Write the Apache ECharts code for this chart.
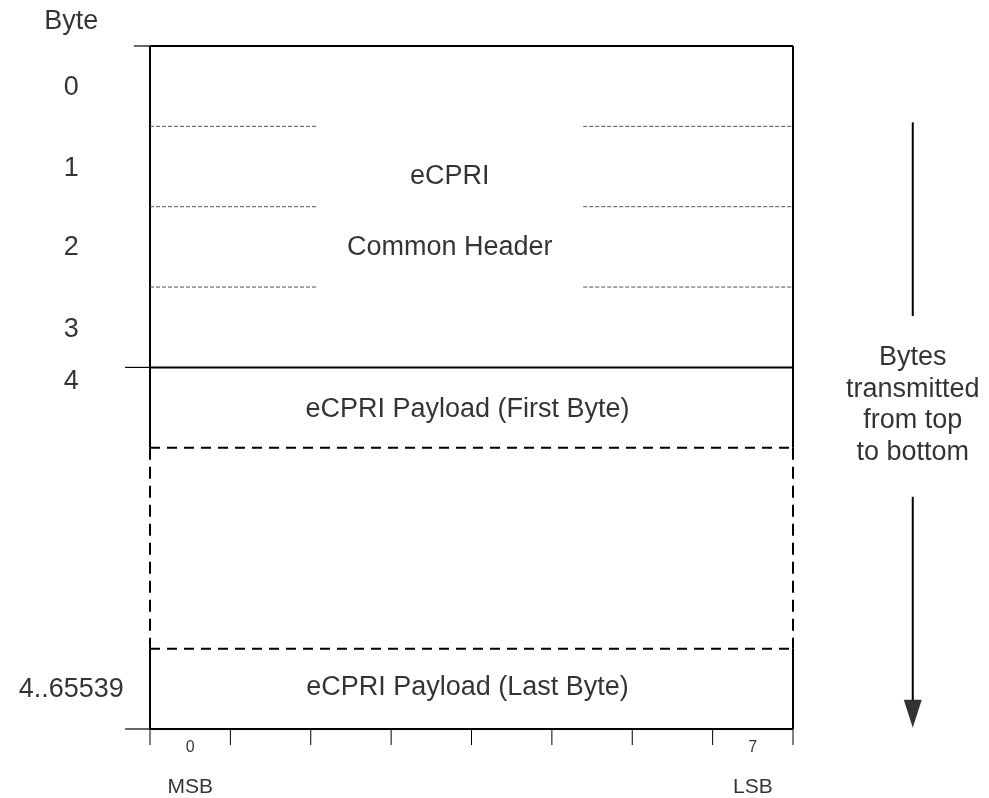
<!DOCTYPE html>
<html>
<head>
<meta charset="utf-8">
<title>eCPRI frame format</title>
<script src="https://cdn.jsdelivr.net/npm/echarts@6.0.0/dist/echarts.min.js"></script>
<style>
  html, body { margin: 0; padding: 0; background: #fff; }
  #chart { width: 989px; height: 798px; }
</style>
</head>
<body>
<div id="chart"></div>
<script>
// byte numbers down the left side (y in byte rows, 0 = top of frame)
const byteLabels = ['Byte', '0', '1', '2', '3', '4', '4..65539'];
const byteLabelRows = [-0.3, 0.52, 1.52, 2.51, 3.53, 4.18, 8.01];

// bit numbers and significance under the frame
const bitLabels = ['0', '7'];
const bitLabelCols = [0.5, 7.5];
const bitNames = ['MSB', 'LSB'];

// frame rows
const headerSubRows = [1, 2, 3];      // thin dashed lines inside the common header
const headerGap = [2.09, 5.39];       // where the thin dashed lines stop for the text
const solidRows = [0, 4];             // top of frame, end of common header
const payloadDashRows = [5, 7.5];     // first byte end, last byte start
const frameEnd = 8.5;
const bitCount = 8;

// field names
const fieldNames = ['eCPRI', 'Common Header', 'eCPRI Payload (First Byte)', 'eCPRI Payload (Last Byte)'];
const fieldRows = [1.62, 2.51, 4.53, 7.98];
const fieldCols = [3.73, 3.73, 3.95, 3.95];

// transmit direction arrow
const arrowCol = 9.49;
const arrowShaftTop = [0.95, 3.36];
const arrowShaftBottom = [5.61, 8.14];
const arrowHeadRow = 8.31;
const arrowText = 'Bytes\ntransmitted\nfrom top\nto bottom';
const arrowTextRow = 4.47;

const FONT = 'Liberation Sans, Arial, sans-serif';

function seg(points, width, type, color) {
    return {
        type: 'line',
        data: points,
        symbol: 'none',
        silent: true,
        animation: false,
        lineStyle: { color: color || '#000', width: width, type: type || 'solid' }
    };
}

function labels(names, xs, ys, size) {
    return {
        type: 'scatter',
        silent: true,
        animation: false,
        symbolSize: 1,
        itemStyle: { color: 'transparent' },
        label: {
            show: true,
            position: 'inside',
            formatter: '{b}',
            color: '#000',
            fontFamily: FONT,
            fontSize: size,
            align: 'center',
            verticalAlign: 'middle'
        },
        data: names.map((n, i) => ({ name: n, value: [xs[i], ys[i]] }))
    };
}

const series = [];

// solid outline
solidRows.forEach(r => series.push(seg([[0, r], [bitCount, r]], 2)));
series.push(seg([[0, frameEnd], [bitCount, frameEnd]], 2));
series.push(seg([[0, 0], [0, payloadDashRows[0]]], 2));
series.push(seg([[bitCount, 0], [bitCount, payloadDashRows[0]]], 2));
series.push(seg([[0, payloadDashRows[1]], [0, frameEnd]], 2));
series.push(seg([[bitCount, payloadDashRows[1]], [bitCount, frameEnd]], 2));

// short ticks left of the frame
series.push(seg([[-0.2, 0], [0, 0]], 1.2));
series.push(seg([[-0.31, 4], [0, 4]], 1.2));
series.push(seg([[-0.31, frameEnd], [0, frameEnd]], 1.2));

// bit ticks below the frame
for (let b = 0; b <= bitCount; b++) {
    series.push(seg([[b, frameEnd], [b, frameEnd + 0.2]], 1));
}

// thin dashed lines inside the header
headerSubRows.forEach(r => {
    series.push(seg([[0, r], [headerGap[0], r]], 1, [4, 2], '#555'));
    series.push(seg([[headerGap[1], r], [bitCount, r]], 1, [4, 2], '#555'));
});

// dashed payload part
payloadDashRows.forEach(r => series.push(seg([[0, r], [bitCount, r]], 2, [10, 7])));
series.push(seg([[0, payloadDashRows[0]], [0, payloadDashRows[1]]], 2, [12, 7]));
series.push(seg([[bitCount, payloadDashRows[0]], [bitCount, payloadDashRows[1]]], 2, [12, 7]));

// arrow
series.push(seg([[arrowCol, arrowShaftTop[0]], [arrowCol, arrowShaftTop[1]]], 2));
series.push(seg([[arrowCol, arrowShaftBottom[0]], [arrowCol, arrowShaftBottom[1]]], 2));
series.push({
    type: 'scatter',
    silent: true,
    animation: false,
    symbol: 'triangle',
    symbolRotate: 180,
    symbolSize: [18, 28],
    itemStyle: { color: '#000' },
    data: [[arrowCol, arrowHeadRow]]
});

// texts
series.push(labels(byteLabels, byteLabels.map(() => -0.98), byteLabelRows, 27));
series.push(labels(fieldNames, fieldCols, fieldRows, 27));
series.push(labels(bitLabels, bitLabelCols, [8.73, 8.73], 16));
series.push(labels(bitNames, bitLabelCols, [9.23, 9.23], 21));
const arrowLabel = labels([arrowText], [arrowCol], [arrowTextRow], 27);
arrowLabel.label.lineHeight = 31.5;
series.push(arrowLabel);

// the grid covers the whole page; 1 unit = one bit column / one byte row
const colPx = 643 / bitCount;
const rowPx = 683 / frameEnd;

const myChart = echarts.init(document.getElementById('chart'), null, { renderer: 'canvas' });
myChart.setOption({
    backgroundColor: '#fff',
    animation: false,
    grid: { left: 0, right: 0, top: 0, bottom: 0 },
    xAxis: {
        type: 'value',
        min: -150 / colPx,
        max: bitCount + 196 / colPx,
        show: false,
        splitLine: { show: false }
    },
    yAxis: {
        type: 'value',
        min: -46 / rowPx,
        max: frameEnd + 69 / rowPx,
        inverse: true,
        show: false,
        splitLine: { show: false }
    },
    series: series
});
window.addEventListener('resize', () => myChart.resize());
</script>
</body>
</html>
